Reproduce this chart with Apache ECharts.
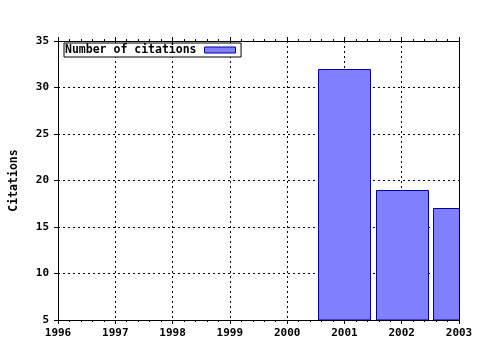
<!DOCTYPE html>
<html>
<head>
<meta charset="utf-8">
<script src="https://cdn.jsdelivr.net/npm/echarts@6/dist/echarts.min.js"></script>
<style>
html,body{margin:0;padding:0;background:#fff;}
#chart{width:480px;height:350px;}
</style>
</head>
<body>
<div id="chart"></div>
<script>
var years = [2001, 2002, 2003];
var citations = [32, 19, 17];
var seriesName = 'Number of citations';
var yAxisTitle = 'Citations';
var xMin = 1996, xMax = 2003;
var yMin = 5, yMax = 35, yStep = 5;

var FONT = 'DejaVu Sans Mono';
var BAR_WIDTH = 52;
var chart = echarts.init(document.getElementById('chart'), null, {renderer: 'canvas'});

var grid = {left: 57, right: 21, top: 41, bottom: 30};
var dashed = {show: true, lineStyle: {color: '#000', width: 1, type: [2, 3]}};

chart.setOption({
  animation: false,
  backgroundColor: '#fff',
  grid: grid,
  legend: {
    show: true,
    left: 64, top: 43,
    orient: 'horizontal',
    align: 'right',
    padding: [1, 5, 1, 1],
    backgroundColor: '#fff',
    borderColor: '#000',
    borderWidth: 1,
    borderRadius: 0,
    itemWidth: 31,
    itemHeight: 6,
    icon: 'rect',
    itemStyle: {color: '#8080ff', borderColor: '#0000a0', borderWidth: 1},
    textStyle: {fontFamily: FONT, fontWeight: 'bold', fontSize: 11.5, color: '#000', padding: [0, 3, 0, 0]},
    data: [seriesName]
  },
  xAxis: [{
    type: 'value',
    min: xMin, max: xMax, interval: 1,
    axisLine: {show: true, onZero: false, lineStyle: {color: '#000', width: 1}},
    axisTick: {show: true, length: 4, lineStyle: {color: '#000'}},
    minorTick: {show: true, splitNumber: 5, length: 2, lineStyle: {color: '#000'}},
    axisLabel: {margin: 8, fontFamily: FONT, fontWeight: 'bold', fontSize: 11, color: '#000', formatter: function (v) { return String(v); }},
    splitLine: dashed
  }, {
    type: 'value', position: 'top',
    min: xMin, max: xMax, interval: 1,
    axisLine: {show: true, onZero: false, lineStyle: {color: '#000', width: 1}},
    axisTick: {show: true, length: 4, lineStyle: {color: '#000'}},
    minorTick: {show: true, splitNumber: 5, length: 2, lineStyle: {color: '#000'}},
    axisLabel: {show: false},
    splitLine: {show: false}
  }],
  yAxis: [{
    type: 'value',
    min: yMin, max: yMax, interval: yStep,
    name: yAxisTitle,
    nameLocation: 'middle',
    nameGap: 38,
    nameRotate: 90,
    nameTextStyle: {fontFamily: FONT, fontWeight: 'bold', fontSize: 11.5, color: '#000'},
    axisLine: {show: true, onZero: false, lineStyle: {color: '#000', width: 1}},
    axisTick: {show: true, length: 4, lineStyle: {color: '#000'}},
    axisLabel: {margin: 9, fontFamily: FONT, fontWeight: 'bold', fontSize: 11, color: '#000'},
    splitLine: dashed
  }, {
    type: 'value', position: 'right',
    min: yMin, max: yMax, interval: yStep,
    axisLine: {show: true, onZero: false, lineStyle: {color: '#000', width: 1}},
    axisTick: {show: false},
    axisLabel: {show: false},
    splitLine: {show: false}
  }],
  series: [{
    name: seriesName,
    type: 'custom',
    xAxisIndex: 0, yAxisIndex: 0,
    clip: true,
    itemStyle: {color: '#8080ff', borderColor: '#0000a0', borderWidth: 1},
    encode: {x: 0, y: 1},
    renderItem: function (params, api) {
      var top = api.coord([api.value(0), api.value(1)]);
      var base = api.coord([api.value(0), yMin]);
      var cs = params.coordSys;
      var rect = echarts.graphic.clipRectByRect({
        x: Math.round(top[0] - BAR_WIDTH / 2) + 0.5,
        y: Math.round(top[1]) + 0.5,
        width: BAR_WIDTH,
        height: base[1] - top[1]
      }, {x: cs.x, y: cs.y, width: cs.width + 0.5, height: cs.height});
      return rect && {
        type: 'rect',
        shape: rect,
        style: {fill: '#8080ff', stroke: '#0000a0', lineWidth: 1}
      };
    },
    data: years.map(function (y, i) { return [y, citations[i]]; })
  }]
});
</script>
</body>
</html>
